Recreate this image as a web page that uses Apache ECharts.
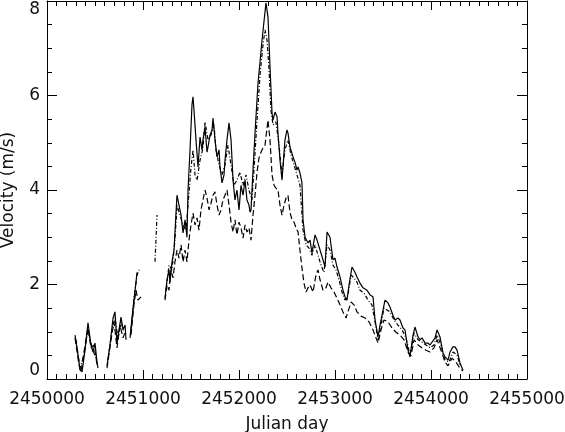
<!DOCTYPE html>
<html>
<head>
<meta charset="utf-8">
<script src="https://cdn.jsdelivr.net/npm/echarts@6/dist/echarts.min.js"></script>
<style>
  html, body { margin: 0; padding: 0; background: #fff; }
  #chart { width: 565px; height: 432px; }
</style>
</head>
<body>
<div id="chart"></div>
<script>
// Julian day offsets from JD0, velocity in m/s; null = gap in the record
const JD0 = 2450000;
const xTicks = [2450000, 2451000, 2452000, 2453000, 2454000, 2455000];
const yTicks = [0, 2, 4, 6, 8];

// solid line
const solid = [
  [292,0.93],[323,0.51],[344,0.19],[365,0.15],[396,0.61],[427,1.19],[458,0.72],[479,0.57],[500,0.76],[521,0.36],[531,0.23],
  [580,null],
  [625,0.28],[656,0.72],[688,1.29],[708,1.42],[729,0.76],[750,1.04],[771,1.31],[792,1.04],[813,1.14],[823,0.83],
  [845,null],
  [865,0.87],[885,1.29],[906,1.67],[927,2.05],[938,2.26],
  [1080,null],
  [1229,1.71],[1250,2.1],[1271,2.31],[1281,2.05],[1302,2.48],[1323,2.73],[1333,3.11],[1354,3.89],[1375,3.68],[1396,3.47],
  [1417,3.09],[1438,3.37],[1458,3.0],[1469,4.0],[1490,4.85],[1510,5.8],[1521,5.97],[1531,5.69],[1552,5.06],[1573,4.49],
  [1594,5.12],[1615,4.85],[1625,5.06],[1646,5.33],[1667,4.8],[1677,4.91],[1698,5.16],[1719,5.27],[1729,5.52],[1750,5.06],
  [1771,4.7],[1792,4.85],[1802,4.49],[1823,4.15],[1844,4.32],[1854,4.63],[1875,5.06],[1896,5.42],[1917,5.06],[1938,4.21],
  [1958,3.79],[1979,4.0],[2000,3.58],[2021,4.1],[2042,3.89],[2063,4.21],[2083,3.79],[2104,3.68],[2115,3.53],[2125,3.58],
  [2146,4.42],[2167,5.21],[2198,6.26],[2240,7.17],[2260,7.56],[2281,7.96],[2302,7.66],[2323,6.6],[2344,5.63],[2354,5.48],
  [2375,5.65],[2396,5.55],[2406,5.21],[2427,4.63],[2448,4.21],[2458,4.49],[2479,5.06],[2500,5.27],[2510,5.21],[2531,4.91],
  [2563,4.7],[2583,4.59],[2604,4.42],[2615,4.49],[2635,4.36],[2656,4.15],[2667,3.37],[2688,3.0],[2719,2.88],[2740,2.94],
  [2760,2.67],[2792,3.05],[2813,2.94],[2844,2.73],[2875,2.52],[2896,2.37],[2917,3.11],[2927,3.15],[2948,3.0],[2979,2.52],
  [3000,2.56],[3021,2.37],[3052,2.16],[3083,1.88],[3104,1.74],[3125,1.67],[3146,1.99],[3177,2.37],[3208,2.26],[3229,2.16],
  [3260,2.03],[3292,1.93],[3333,1.88],[3365,1.78],[3396,1.74],[3417,1.25],[3448,0.89],[3469,1.14],[3500,1.46],[3521,1.67],
  [3552,1.61],[3573,1.52],[3604,1.35],[3625,1.25],[3656,1.29],[3677,1.25],[3708,1.08],[3729,1.04],[3760,0.61],[3781,0.47],
  [3813,0.93],[3833,1.1],[3865,0.89],[3885,0.83],[3906,0.87],[3938,0.76],[3969,0.76],[3990,0.72],[4010,0.68],[4042,0.87],
  [4063,1.04],[4094,0.89],[4125,0.55],[4146,0.47],[4177,0.4],[4198,0.57],[4229,0.68],[4250,0.68],[4271,0.61],[4302,0.34],
  [4333,0.19]
];

// long dashes
const dashed = [
  [292,0.87],[333,0.3],[354,0.15],[385,0.57],[427,1.08],[458,0.66],[490,0.72],[521,0.3],
  [580,null],
  [625,0.23],[667,0.83],[698,1.21],[729,0.66],[760,1.14],[792,0.87],[813,0.99],
  [845,null],
  [875,0.93],[906,1.57],[927,1.88],[948,1.67],[979,1.74],
  [1100,null],
  [1229,1.67],[1250,1.99],[1271,1.88],[1292,2.31],[1313,2.14],[1333,2.48],[1354,2.73],[1375,2.56],[1396,2.84],[1417,2.48],
  [1438,2.73],[1458,2.48],[1479,2.94],[1500,3.26],[1521,3.51],[1542,3.26],[1563,3.41],[1583,3.15],[1604,3.58],[1625,3.79],
  [1646,4.0],[1667,3.83],[1688,3.58],[1708,3.72],[1729,3.89],[1750,3.96],[1771,3.68],[1792,3.47],[1813,3.58],[1833,3.79],
  [1854,3.89],[1875,4.0],[1896,3.68],[1917,3.32],[1938,3.11],[1958,3.37],[1979,3.05],[2000,3.32],[2021,3.2],[2042,2.98],
  [2063,3.26],[2083,3.11],[2104,3.2],[2125,2.94],[2146,3.47],[2167,3.89],[2188,4.38],[2208,4.68],[2229,4.8],[2250,4.89],
  [2271,4.95],[2292,5.31],[2302,5.48],[2323,5.06],[2344,4.32],[2365,4.1],[2385,4.04],[2406,4.0],[2427,3.68],[2448,3.47],
  [2469,3.68],[2490,3.83],[2510,3.89],[2531,3.53],[2552,3.37],[2573,3.32],[2594,3.2],[2615,3.11],[2635,2.73],[2656,2.35],
  [2677,2.03],[2698,1.84],[2719,1.93],[2740,1.99],[2771,1.84],[2802,2.2],[2823,2.31],[2844,2.1],[2875,1.88],[2906,1.93],
  [2927,2.05],[2958,1.93],[2990,1.84],[3021,1.71],[3052,1.57],[3083,1.42],[3115,1.29],[3135,1.42],[3167,1.63],[3198,1.57],
  [3229,1.42],[3271,1.33],[3313,1.29],[3354,1.21],[3396,1.04],[3427,0.87],[3448,0.76],[3479,1.04],[3510,1.25],[3552,1.21],
  [3594,1.08],[3635,0.99],[3677,0.93],[3719,0.83],[3760,0.57],[3792,0.49],[3823,0.83],[3865,0.72],[3906,0.66],[3948,0.61],
  [3990,0.57],[4031,0.66],[4063,0.83],[4104,0.61],[4146,0.36],[4177,0.28],[4219,0.44],[4260,0.36],[4302,0.23],[4333,0.17]
];

// dash-dot
const dashDot = [
  [302,0.83],[344,0.23],[385,0.51],[427,1.04],[469,0.66],[510,0.44],
  [580,null],
  [635,0.4],[677,1.04],[708,1.29],[740,0.87],[771,1.21],[802,0.99],
  [845,null],
  [875,1.04],[906,1.71],[938,2.2],[969,2.35],
  [1050,null],
  [1125,2.48],[1135,2.94],[1146,3.47],
  [1190,null],
  [1240,1.88],[1271,2.41],[1302,2.31],[1333,2.94],[1354,3.68],[1385,3.47],[1417,3.26],[1448,3.15],[1469,3.68],[1500,4.47],
  [1521,4.85],[1542,4.32],[1563,4.21],[1594,4.63],[1625,4.89],[1646,5.44],[1677,5.06],[1708,5.16],[1740,5.38],[1760,4.85],
  [1792,4.53],[1823,4.32],[1854,4.53],[1885,4.95],[1917,4.53],[1948,4.1],[1979,4.21],[2010,4.38],[2042,4.1],[2073,4.32],
  [2104,4.0],[2135,3.79],[2156,4.42],[2188,5.48],[2219,6.43],[2250,7.07],[2271,7.39],[2292,7.17],[2313,6.54],[2333,5.69],
  [2354,5.38],[2385,5.44],[2417,4.95],[2448,4.32],[2479,4.85],[2510,5.06],[2542,4.74],[2573,4.53],[2604,4.32],[2635,4.1],
  [2667,3.15],[2698,2.84],[2729,2.77],[2760,2.62],[2792,2.84],[2823,2.62],[2854,2.41],[2885,2.26],[2917,2.84],[2948,2.73],
  [2979,2.41],[3010,2.31],[3042,2.1],[3073,1.84],[3104,1.67],[3135,1.78],[3167,2.2],[3198,2.14],[3229,2.05],[3260,1.88],
  [3302,1.82],[3344,1.67],[3385,1.57],[3417,1.21],[3448,0.83],[3479,1.14],[3510,1.5],[3542,1.46],[3573,1.42],[3615,1.25],
  [3656,1.14],[3698,1.04],[3740,0.87],[3781,0.51],[3823,0.97],[3865,0.83],[3906,0.78],[3948,0.72],[3990,0.66],[4031,0.72],
  [4063,0.93],[4104,0.72],[4146,0.4],[4188,0.36],[4229,0.57],[4271,0.51],[4302,0.3]
];

const toData = (arr) => arr.map(p => [JD0 + p[0], p[1] === null ? '-' : p[1]]);

const chart = echarts.init(document.getElementById('chart'));

const textStyle = { color: '#111', fontFamily: 'DejaVu Sans', fontSize: 17 };
const lineBlack = { lineStyle: { color: '#000', width: 1 } };

function xAx(pos, labels) {
  return {
    type: 'value', position: pos, min: xTicks[0], max: xTicks[xTicks.length - 1], interval: 1000,
    axisLine: { show: true, onZero: false, ...lineBlack },
    axisTick: { show: true, inside: true, length: 9, ...lineBlack },
    minorTick: { show: true, splitNumber: 10, length: 5, ...lineBlack },
    splitLine: { show: false },
    axisLabel: { show: labels, margin: 12, formatter: v => String(v), ...textStyle },
    name: labels ? 'Julian day' : '', nameLocation: 'middle', nameGap: 37,
    nameTextStyle: { ...textStyle }
  };
}

function yAx(pos, labels) {
  return {
    type: 'value', position: pos, min: yTicks[0], max: yTicks[yTicks.length - 1], interval: 2,
    axisLine: { show: true, onZero: false, ...lineBlack },
    axisTick: { show: true, inside: true, length: 10, ...lineBlack },
    minorTick: { show: true, splitNumber: 4, length: 5, ...lineBlack },
    splitLine: { show: false },
    axisLabel: { show: labels, margin: 7, verticalAlignMaxLabel: 'top', verticalAlignMinLabel: 'bottom', ...textStyle },
    name: labels ? 'Velocity (m/s)' : '', nameLocation: 'middle', nameGap: 30, nameRotate: 90,
    nameTextStyle: { ...textStyle }
  };
}

function line(data, type) {
  return {
    type: 'line', data: toData(data), showSymbol: false, connectNulls: false,
    xAxisIndex: 0, yAxisIndex: 0, silent: true,
    lineStyle: { color: '#000', width: 1.2, type: type }
  };
}

chart.setOption({
  animation: false,
  grid: { left: 47, right: 38, top: 1, bottom: 53, containLabel: false, outerBoundsMode: 'none' },
  xAxis: [xAx('bottom', true), xAx('top', false)],
  yAxis: [yAx('left', true), yAx('right', false)],
  series: [
    line(dashDot, [4, 2, 1, 2]),
    line(dashed, [6, 3]),
    line(solid, 'solid')
  ]
});
</script>
</body>
</html>
